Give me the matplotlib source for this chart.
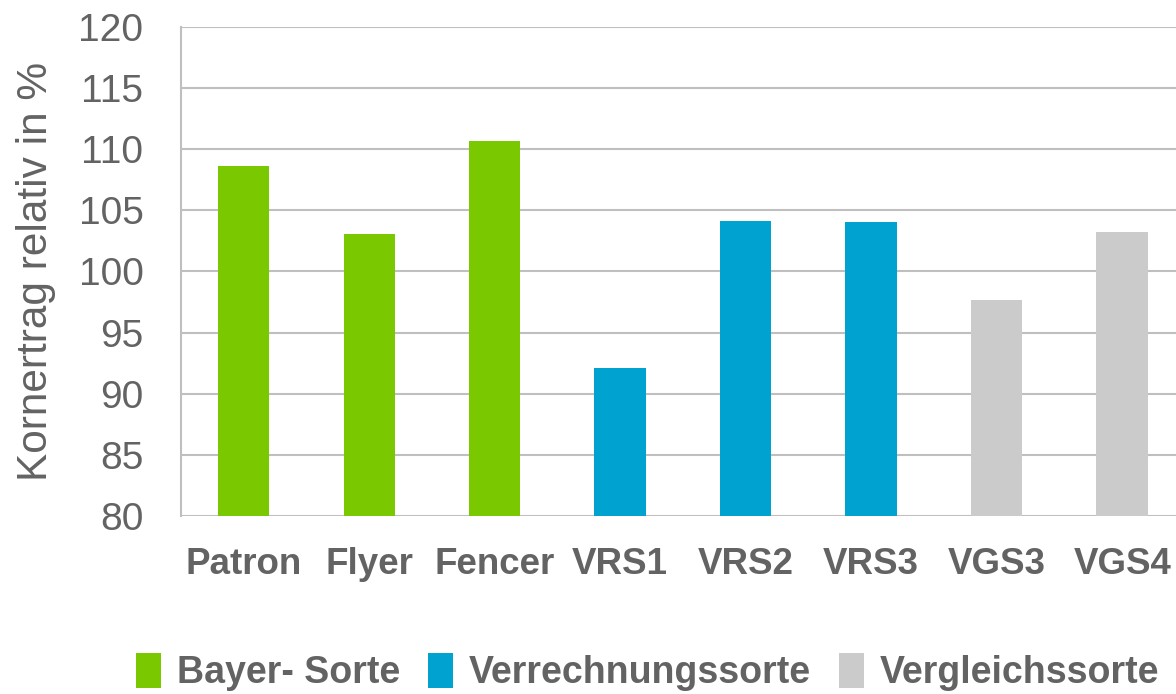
import matplotlib
matplotlib.use("Agg")
import matplotlib.pyplot as plt
from matplotlib.patches import Patch

plt.rcParams['font.family'] = ['Liberation Sans', 'DejaVu Sans']

# data
sorten = ["Patron", "Flyer", "Fencer", "VRS1", "VRS2", "VRS3", "VGS3", "VGS4"]
ertrag = [108.6, 103.1, 110.7, 92.1, 104.1, 104.05, 97.7, 103.2]
gruppe = [0, 0, 0, 1, 1, 1, 2, 2]
gruppen = ["Bayer- Sorte", "Verrechnungssorte", "Vergleichssorte"]
farben = ["#7AC900", "#00A3D0", "#CBCBCB"]
yticks = [80, 85, 90, 95, 100, 105, 110, 115, 120]

grey_txt = "#636363"
grid_col = "#BFBFBF"

fig = plt.figure(figsize=(11.76, 6.94), dpi=100)
ax = fig.add_axes([0.1539, 0.2565, 0.8537, 0.7046])

x = range(len(sorten))
ax.bar(x, [v - 80 for v in ertrag], bottom=80, width=0.41,
       color=[farben[g] for g in gruppe], zorder=3)

ax.set_ylim(80, 120)
ax.set_xlim(-0.5, 7.5)
ax.set_yticks(yticks)
ax.set_yticklabels([str(t) for t in yticks])
ax.set_xticks(list(x))
ax.set_xticklabels(sorten, fontweight="bold")

ax.grid(axis="y", color=grid_col, linewidth=1.5, zorder=0)
for s in ["top", "right", "bottom"]:
    ax.spines[s].set_visible(False)
ax.spines["left"].set_color(grid_col)
ax.spines["left"].set_linewidth(1.5)

ax.tick_params(axis="y", length=0, pad=27, labelsize=28, labelcolor=grey_txt)
ax.tick_params(axis="x", length=0, pad=22, labelsize=26.5, labelcolor=grey_txt)

ax.set_ylabel("Kornertrag relativ in %", fontsize=30.5, color=grey_txt)
ax.yaxis.set_label_coords(-0.124, 0.5)

handles = [Patch(facecolor=c, edgecolor="none") for c in farben]
leg = fig.legend(handles, gruppen, loc="center", bbox_to_anchor=(0.5506, 0.032),
                 ncol=3, frameon=False, handlelength=0.67, handleheight=1.07,
                 handletextpad=0.42, columnspacing=0.75,
                 prop={"size": 27, "weight": "bold"})
for t in leg.get_texts():
    t.set_color(grey_txt)

fig.savefig("out.png", dpi=100)
